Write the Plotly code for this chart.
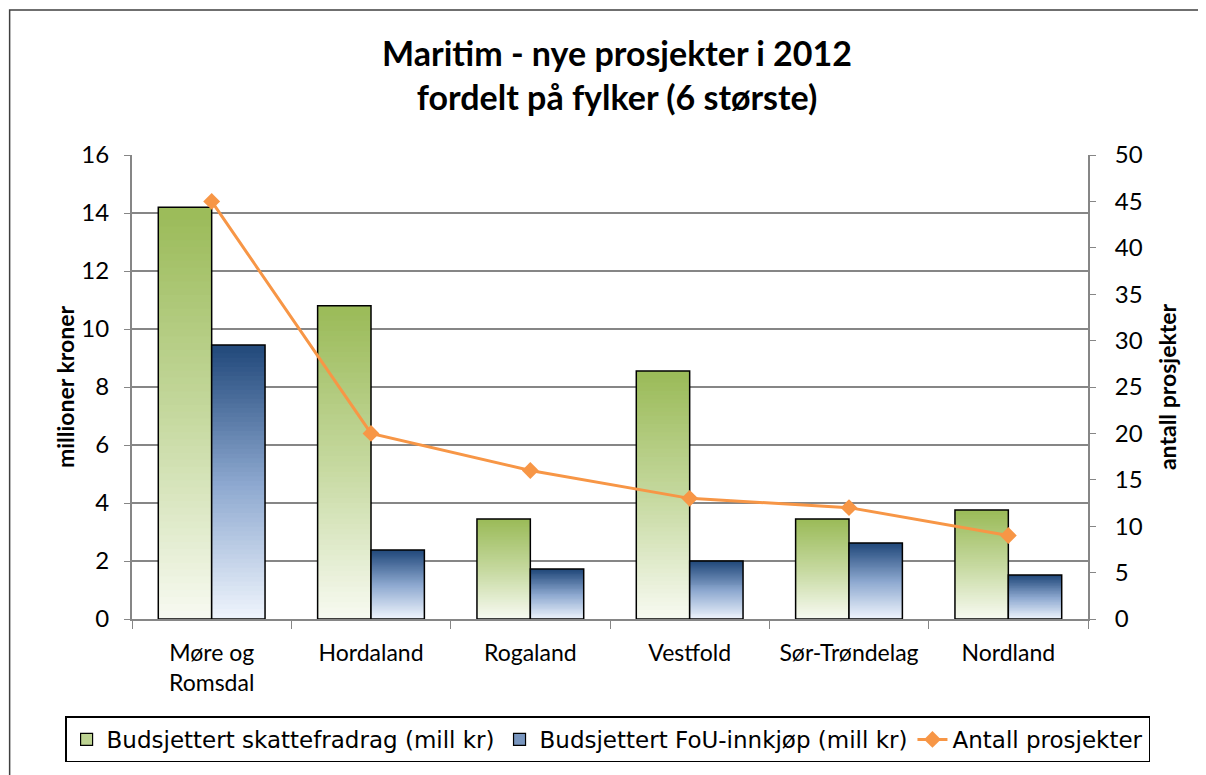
import plotly.graph_objects as go

# ---------- data ----------
fylker = ["Møre og<br>Romsdal", "Hordaland", "Rogaland", "Vestfold", "Sør-Trøndelag", "Nordland"]
skattefradrag = [14.2, 10.8, 3.45, 8.55, 3.45, 3.76]
fou_innkjop = [9.45, 2.38, 1.72, 2.0, 2.62, 1.52]
antall_prosjekter = [45, 20, 16, 13, 12, 9]

FONT = "Lato, 'Open Sans', sans-serif"
N_STEPS = 60  # gradient slices per bar


def hex_to_rgb(h):
    h = h.lstrip("#")
    return [int(h[i:i + 2], 16) for i in (0, 2, 4)]


def blend(stops, t):
    # stops: list of (pos, hex), t in [0,1]
    for (p0, c0), (p1, c1) in zip(stops, stops[1:]):
        if p0 <= t <= p1:
            f = (t - p0) / (p1 - p0) if p1 > p0 else 0
            a, b = hex_to_rgb(c0), hex_to_rgb(c1)
            return "rgb(%d,%d,%d)" % tuple(round(a[i] + (b[i] - a[i]) * f) for i in range(3))
    return stops[-1][1]


green_stops = [(0, "#F9FBF4"), (0.5, "#C6D9A0"), (1, "#9BBB59")]
blue_stops = [(0, "#F2F7FE"), (0.5, "#8EA9D0"), (1, "#234A7C")]

fig = go.Figure()


def gradient_bars(values, stops, offset, width, name):
    # stack thin slices, each a fraction of the bar height, to fake a vertical gradient;
    # every slice reaches a bit down into the previous one so no seams show
    for k in range(N_STEPS):
        t = (k + 0.5) / N_STEPS
        bases = [max(0, v * (k - 0.8) / N_STEPS) for v in values]
        tops = [v * (k + 1) / N_STEPS for v in values]
        fig.add_trace(go.Bar(
            x=fylker, y=[tp - b for tp, b in zip(tops, bases)], base=bases,
            offset=offset, width=width,
            marker=dict(color=blend(stops, t), line=dict(width=0)),
            showlegend=False, hoverinfo="skip",
        ))
    # outline
    fig.add_trace(go.Bar(
        x=fylker, y=values, offset=offset, width=width, name=name,
        marker=dict(color="rgba(0,0,0,0)", line=dict(color="black", width=1.5)),
        showlegend=False,
    ))
    # legend swatch
    fig.add_trace(go.Bar(
        x=[fylker[0]], y=[None], name=name,
        marker=dict(color=blend(stops, 0.6), line=dict(color="black", width=1.2)),
    ))


gradient_bars(skattefradrag, green_stops, -0.335, 0.335, "Budsjettert skattefradrag (mill kr)")
gradient_bars(fou_innkjop, blue_stops, 0.0, 0.335, "Budsjettert FoU-innkjøp (mill kr)")

fig.add_trace(go.Scatter(
    x=fylker, y=antall_prosjekter, yaxis="y2", name="Antall prosjekter",
    mode="lines+markers",
    line=dict(color="#F79646", width=3),
    marker=dict(symbol="diamond", size=13, color="#F79646"),
))

fig.update_layout(
    width=1206, height=775,
    barmode="overlay",
    paper_bgcolor="white", plot_bgcolor="white",
    margin=dict(l=124, r=126, t=147, b=164, autoexpand=False),
    font=dict(family=FONT, size=24, color="black"),
    title=dict(
        text="<b>Maritim - nye prosjekter i 2012<br>fordelt på fylker (6 største)</b>",
        x=0.505, xanchor="center", y=0.925, yanchor="middle",
        font=dict(size=34, family=FONT),
    ),
    xaxis=dict(
        showline=True, linecolor="#868686", linewidth=2,
        ticks="outside", tickson="boundaries", ticklen=8, tickcolor="#868686",
        tickfont=dict(size=23), showgrid=False, ticklabelstandoff=12,
    ),
    yaxis=dict(
        range=[0, 16], dtick=2, showgrid=True, gridcolor="#868686", gridwidth=1.5,
        showline=True, linecolor="#868686", linewidth=2,
        ticks="outside", ticklen=6, tickcolor="#868686", ticklabelstandoff=10,
        tickfont=dict(size=24),
        title=dict(text="<b>millioner kroner</b>", font=dict(size=23), standoff=0),
        zeroline=False,
    ),
    yaxis2=dict(
        range=[0, 50], dtick=5, overlaying="y", side="right", showgrid=False,
        showline=True, linecolor="#868686", linewidth=2,
        ticks="outside", ticklen=6, tickcolor="#868686", ticklabelstandoff=14,
        tickfont=dict(size=24),
        title=dict(text="<b>antall prosjekter</b>", font=dict(size=23), standoff=18),
        zeroline=False,
    ),
    legend=dict(
        orientation="h", x=-0.07, xanchor="left", y=-0.21, yanchor="top",
        bordercolor="black", borderwidth=1.5,
        font=dict(size=23, family="'DejaVu Sans', 'Open Sans', sans-serif"),
        itemwidth=30, tracegroupgap=0, traceorder="normal",
    ),
    shapes=[dict(
        type="rect", xref="paper", yref="paper",
        x0=-0.128, x1=1.2, y0=-0.4, y1=1.3125,
        line=dict(color="#404040", width=1.5), layer="below",
    )],
)

fig.write_html("out.html")
